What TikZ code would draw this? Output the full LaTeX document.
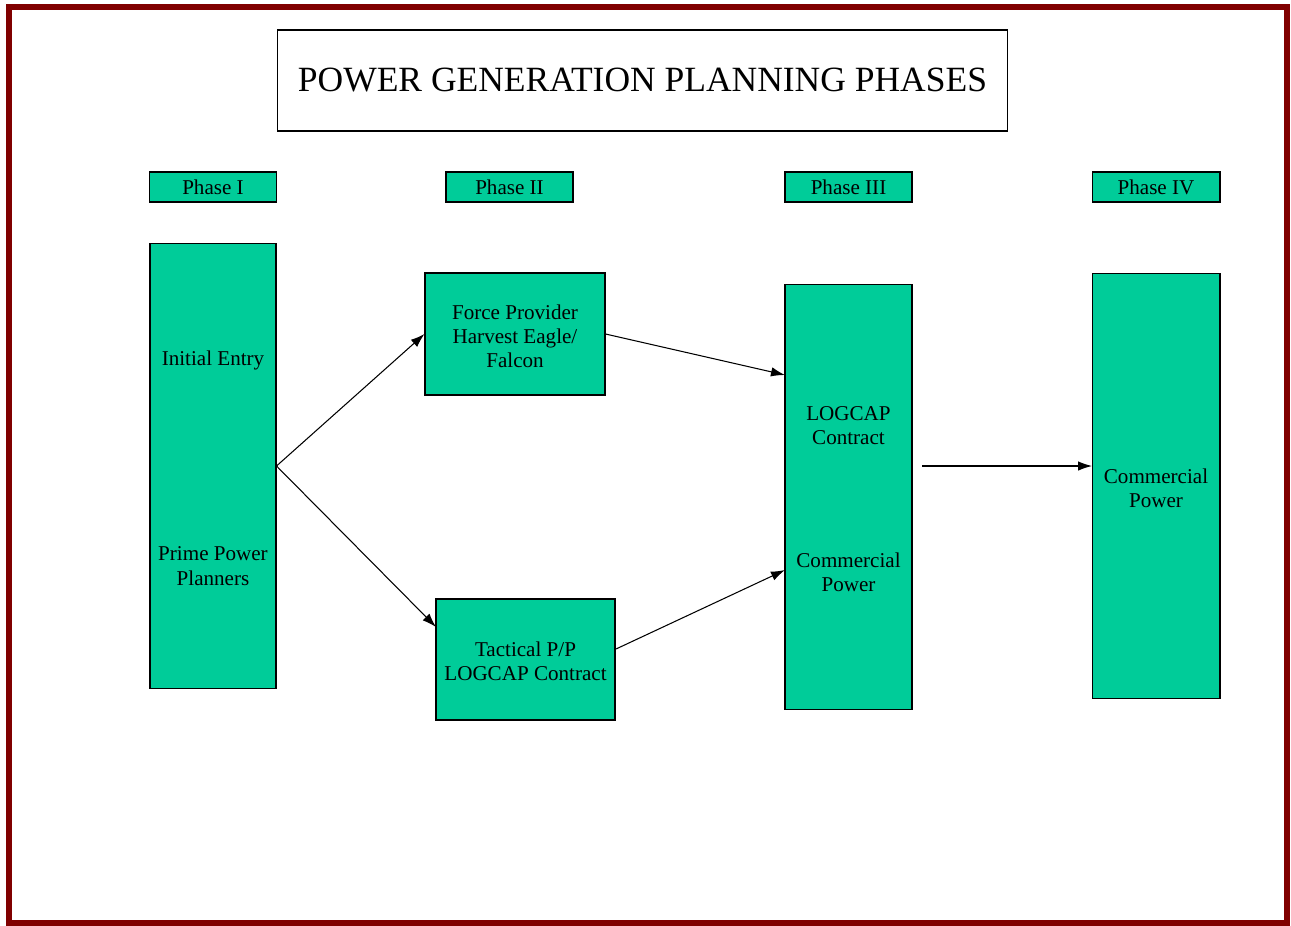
\documentclass[tikz,border=0pt]{standalone}
\usepackage{fontspec}
\setmainfont{Liberation Serif}
\usetikzlibrary{arrows.meta}
\definecolor{planred}{RGB}{128, 0, 0}
\definecolor{plangreen}{RGB}{0, 204, 153}

\begin{document}
\begin{tikzpicture}[x=0.02cm, y=-0.02cm, line width=0.6pt,
    box/.style={draw=black, fill=plangreen, inner sep=0pt},
    txt/.style={font=\fontsize{12}{13.8}\selectfont, align=center, inner sep=0pt},
    flow/.style={-{Latex[length=2.8mm, width=1.9mm]}}]
        \useasboundingbox (0,0) rectangle (1291,926);
        \draw[planred, line width=0.12cm] (9,7) rectangle (1287,923);

        \node[draw=black, fill=white, minimum width=14.62cm, minimum height=2.02cm,
          font=\fontsize{20.2}{24}\selectfont] (title) at (642.5,80.5)
          {POWER GENERATION PLANNING PHASES};

        \node[box, txt, minimum width=2.54cm, minimum height=0.6cm] (ph1) at (213,187) {Phase I};
        \node[box, txt, minimum width=2.54cm, minimum height=0.6cm] (ph2) at (509.5,187) {Phase II};
        \node[box, txt, minimum width=2.54cm, minimum height=0.6cm] (ph3) at (848.5,187) {Phase III};
        \node[box, txt, minimum width=2.56cm, minimum height=0.6cm] (ph4) at (1156,187) {Phase IV};

        \node[box, minimum width=2.52cm, minimum height=8.92cm] (entry) at (213,466) {};
        \node[txt] (entrytop) at (213,360) {Initial Entry};
        \node[txt] (entrybot) at (213,566) {Prime Power\\Planners};

        \node[box, minimum width=3.6cm, minimum height=2.44cm] (force) at (515,334) {};
        \node[txt] (forcetxt) at (515,336.5) {Force Provider\\Harvest Eagle/\\Falcon};
        \node[box, minimum width=3.58cm, minimum height=2.42cm] (tactical) at (525.5,659.5) {};
        \node[txt] (tacticaltxt) at (525.5,661) {Tactical P/P\\LOGCAP Contract};

        \node[box, minimum width=2.54cm, minimum height=8.52cm] (logcap) at (848.5,497) {};
        \node[txt] (logcaptop) at (848.5,425.5) {LOGCAP\\Contract};
        \node[txt] (logcapbot) at (848.5,572) {Commercial\\Power};

        \node[box, minimum width=2.56cm, minimum height=8.52cm] (commercial) at (1156,486) {};
        \node[txt] (commercialtxt) at (1156,488.5) {Commercial\\Power};

        \coordinate (tacin) at (436,627);
        \coordinate (tacout) at (616,649);
        \coordinate (login1) at (785,375);
        \coordinate (login2) at (785,570);
        \coordinate (logout) at (922,466);
        \coordinate (comin) at (1092,466);

        \draw[flow] (entry.east) -- (force.west);
        \draw[flow] (entry.east) -- (tacin);
        \draw[flow] (force.east) -- (login1);
        \draw[flow] (tacout) -- (login2);
        \draw[flow] (logout) -- (comin);
      \end{tikzpicture}
\end{document}
